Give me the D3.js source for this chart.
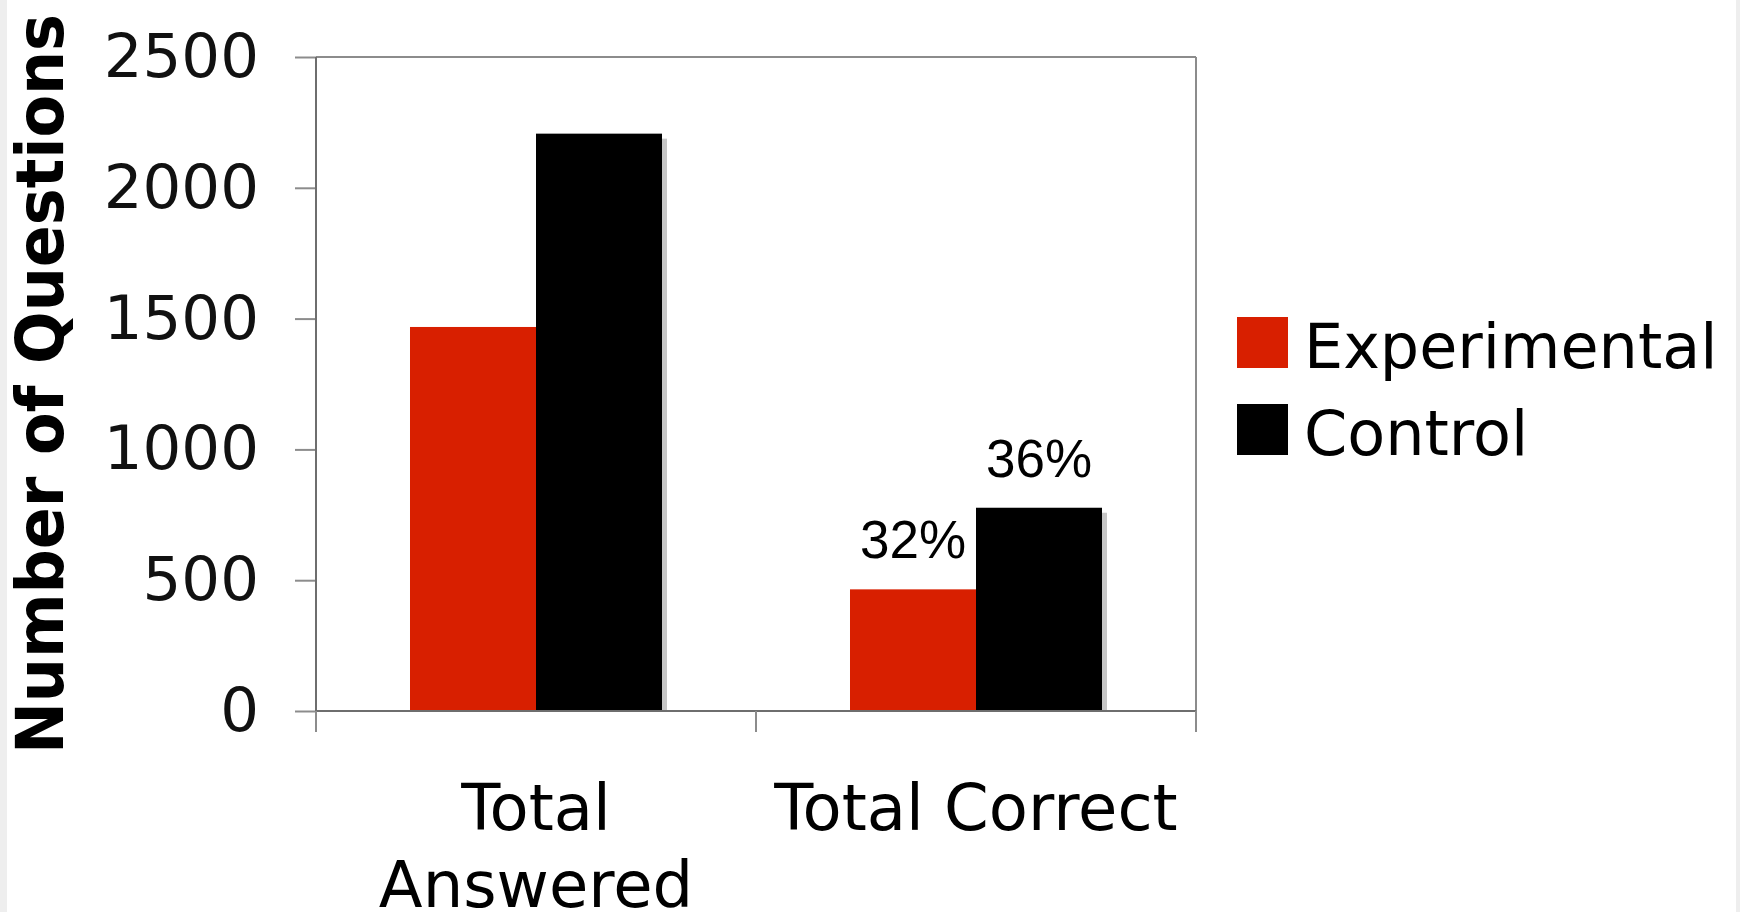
<!DOCTYPE html>
<html>
<head>
<meta charset="utf-8">
<script src="https://cdn.jsdelivr.net/npm/d3@7"></script>
<style>
  html, body { margin: 0; padding: 0; background: #fff; }
  svg { display: block; }
</style>
</head>
<body>
<div id="chart"></div>
<script>
// chart data
const categories = ["Total Answered", "Total Correct"];
const categoryLines = [["Total", "Answered"], ["Total Correct"]];
const series = ["Experimental", "Control"];
const experimental = [1468, 465];
const control = [2207, 777];
const experimentalLabels = ["", "32%"];
const controlLabels = ["", "36%"];
const yTicks = [0, 500, 1000, 1500, 2000, 2500];
const colors = { Experimental: "#d81f00", Control: "#000000" };

const width = 1740, height = 912;
const margin = { top: 57, right: 544, bottom: 201, left: 316 };

const svg = d3.select("#chart")
    .append("svg")
    .attr("width", width)
    .attr("height", height);

// faint page edges
svg.append("rect").attr("x", 0).attr("y", 0).attr("width", 7).attr("height", height).attr("fill", "#eeeeee");
svg.append("rect").attr("x", 1736).attr("y", 0).attr("width", 4).attr("height", height).attr("fill", "#eeeeee");

const x0 = d3.scaleBand()
    .domain(categories)
    .range([margin.left, width - margin.right])
    .padding(0);

const x1 = d3.scaleBand()
    .domain(series)
    .range([0, x0.bandwidth()])
    .paddingInner(0)
    .paddingOuter(0.746);

const y = d3.scaleLinear()
    .domain([0, 2500])
    .range([height - margin.bottom, margin.top]);

const rows = categories.map((c, i) => ({
    category: c,
    values: [
        { key: "Experimental", value: experimental[i], label: experimentalLabels[i] },
        { key: "Control", value: control[i], label: controlLabels[i] }
    ]
}));

const x0Left = margin.left, x0Right = width - margin.right;
const yTop = y(2500), yBase = y(0);

// y axis ticks + labels
const yAxis = svg.append("g")
    .attr("transform", `translate(${x0Left},0)`)
    .call(d3.axisLeft(y).tickValues(yTicks).tickSize(21).tickPadding(36).tickFormat(d3.format("d")));
yAxis.select(".domain").remove();
yAxis.selectAll(".tick line").attr("stroke", "#8c8c8c").attr("stroke-width", 2);
yAxis.selectAll(".tick text")
    .attr("fill", "#111")
    .style("font-family", "'DejaVu Sans', Verdana, sans-serif")
    .style("font-size", "61px");

// bars: shadows first
const groups = svg.append("g")
    .selectAll("g")
    .data(rows)
    .enter()
    .append("g")
    .attr("transform", d => `translate(${x0(d.category)},0)`);

groups.selectAll("rect.shadow")
    .data(d => d.values)
    .enter()
    .append("rect")
    .attr("class", "shadow")
    .attr("x", d => x1(d.key) + 5)
    .attr("y", d => y(d.value) + 5)
    .attr("width", x1.bandwidth())
    .attr("height", d => yBase - y(d.value) - 5)
    .attr("fill", "#c6c6c6");

groups.selectAll("rect.bar")
    .data(d => d.values)
    .enter()
    .append("rect")
    .attr("class", "bar")
    .attr("x", d => x1(d.key))
    .attr("y", d => y(d.value))
    .attr("width", x1.bandwidth())
    .attr("height", d => yBase - y(d.value))
    .attr("fill", d => colors[d.key]);

groups.selectAll("text.pct")
    .data(d => d.values.filter(v => v.label))
    .enter()
    .append("text")
    .attr("class", "pct")
    .attr("x", d => x1(d.key) + x1.bandwidth() / 2)
    .attr("y", d => y(d.value) - 31)
    .attr("text-anchor", "middle")
    .style("font-family", "'Liberation Sans', Arial, sans-serif")
    .style("font-size", "53px")
    .attr("fill", "#000")
    .text(d => d.label);

// frame
const frame = svg.append("g").attr("stroke", "#8c8c8c").attr("stroke-width", 2).attr("fill", "none");
frame.append("line").attr("x1", x0Left).attr("x2", x0Right).attr("y1", yTop).attr("y2", yTop);
frame.append("line").attr("x1", x0Right).attr("x2", x0Right).attr("y1", yTop).attr("y2", yBase);
frame.append("line").attr("x1", x0Left).attr("x2", x0Left).attr("y1", yTop).attr("y2", yBase).attr("stroke", "#6e6e6e");
frame.append("line").attr("x1", x0Left).attr("x2", x0Right).attr("y1", yBase).attr("y2", yBase).attr("stroke", "#6e6e6e");

// x ticks at band edges
const edges = categories.map(c => x0(c)).concat([x0Right]);
frame.selectAll("line.xtick")
    .data(edges)
    .enter()
    .append("line")
    .attr("class", "xtick")
    .attr("x1", d => d).attr("x2", d => d)
    .attr("y1", yBase).attr("y2", yBase + 21);

// x labels
const xl = svg.append("g")
    .selectAll("text")
    .data(categories)
    .enter()
    .append("text")
    .attr("text-anchor", "middle")
    .attr("fill", "#000")
    .style("font-family", "'DejaVu Sans', Verdana, sans-serif")
    .style("font-size", "64px");
xl.each(function (d, i) {
    const t = d3.select(this);
    categoryLines[i].forEach((line, j) => {
        t.append("tspan")
            .attr("x", x0(d) + x0.bandwidth() / 2)
            .attr("y", 830 + j * 77)
            .text(line);
    });
});

// y title
svg.append("text")
    .attr("transform", `translate(63,384) rotate(-90)`)
    .attr("text-anchor", "middle")
    .attr("textLength", 740)
    .attr("lengthAdjust", "spacingAndGlyphs")
    .style("font-family", "'DejaVu Sans Condensed', 'Liberation Sans Narrow', 'Arial Narrow', sans-serif")
    .style("font-weight", "bold")
    .style("font-size", "66px")
    .attr("fill", "#000")
    .text("Number of Questions");

// legend
const legend = svg.append("g")
    .selectAll("g")
    .data(series)
    .enter()
    .append("g")
    .attr("transform", (d, i) => `translate(1237,${317 + i * 87})`);
legend.append("rect")
    .attr("width", 51)
    .attr("height", 51)
    .attr("fill", d => colors[d]);
legend.append("text")
    .attr("x", 67)
    .attr("y", 51)
    .attr("fill", "#000")
    .style("font-family", "'DejaVu Sans', Verdana, sans-serif")
    .style("font-size", "62px")
    .text(d => d);
</script>
</body>
</html>
